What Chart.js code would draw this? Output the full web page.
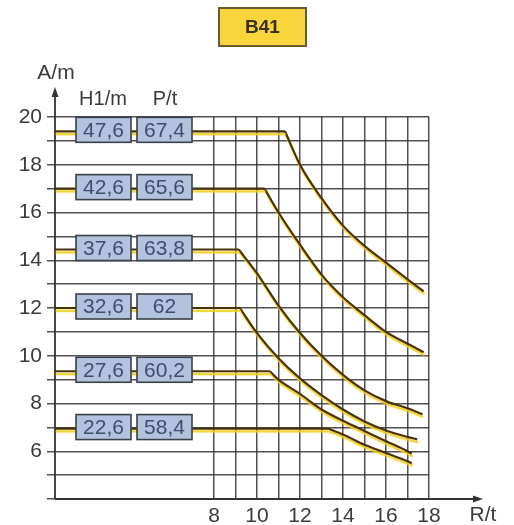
<!DOCTYPE html>
<html>
<head>
<meta charset="utf-8">
<script src="https://cdn.jsdelivr.net/npm/chart.js@4"></script>
<style>
body { margin: 0; background: #fff; }
#wrap { width: 514px; height: 525px; position: relative; }
</style>
</head>
<body>
<div id="wrap"><canvas id="c"></canvas></div>
<script>
// boom length H1 (m) and counterweight P (t) for each curve
var h1 = [47.6, 42.6, 37.6, 32.6, 27.6, 22.6];
var pt = [67.4, 65.6, 63.8, 62, 60.2, 58.4];

// radius R/t (x) and A/m (y); point 1 is the knee
var x1 = [0.6, 11.3, 12, 13, 14, 15, 16, 17, 17.75];
var y1 = [19.4, 19.4, 18.0, 16.6, 15.45, 14.6, 13.9, 13.2, 12.7];
var x2 = [0.6, 10.35, 11, 12, 13, 14, 15, 16, 17, 17.75];
var y2 = [17.0, 17.0, 16.0, 14.65, 13.4, 12.45, 11.7, 11.0, 10.5, 10.15];
var x3 = [0.6, 9.15, 10, 11, 12, 13, 14, 15, 16, 17, 17.7];
var y3 = [14.45, 14.45, 13.45, 12.1, 10.95, 10.0, 9.2, 8.55, 8.1, 7.8, 7.55];
var x4 = [0.6, 9.2, 10, 11, 12, 13, 14, 15, 16, 17, 17.45];
var y4 = [12.0, 12.0, 10.95, 9.9, 9.05, 8.35, 7.75, 7.25, 6.87, 6.6, 6.5];
var x5 = [0.6, 10.6, 11, 12, 13, 14, 15, 16, 17, 17.2];
var y5 = [9.35, 9.35, 9.0, 8.4, 7.75, 7.28, 6.85, 6.42, 6.0, 5.9];
var x6 = [0.6, 13.3, 14, 15, 16, 17, 17.2];
var y6 = [6.95, 6.95, 6.7, 6.27, 5.93, 5.58, 5.5];

var xTicks = [8, 9, 10, 11, 12, 13, 14, 15, 16, 17, 18];

var xs = [x1, x2, x3, x4, x5, x6];
var ys = [y1, y2, y3, y4, y5, y6];

function pts(xa, ya) {
  return xa.map(function (v, i) { return { x: v, y: ya[i] }; });
}
function fmt(v) {
  return String(v).replace('.', ',');
}

// each curve = straight flat part + smooth falling part from the knee on
var datasets = [];
xs.forEach(function (xa, i) {
  var all = pts(xa, ys[i]);
  var lbl = fmt(h1[i]) + ' / ' + fmt(pt[i]);
  datasets.push({
    label: lbl,
    data: all.slice(0, 2),
    borderColor: '#4a3208',
    borderWidth: 2.2,
    pointRadius: 0,
    tension: 0
  });
  datasets.push({
    label: lbl,
    data: all.slice(1),
    borderColor: '#4a3208',
    borderWidth: 2.2,
    pointRadius: 0,
    cubicInterpolationMode: 'monotone'
  });
});

var font = '"Liberation Sans", Arial, sans-serif';

var decor = {
  id: 'decor',
  beforeDatasetsDraw: function (chart) {
    var ctx = chart.ctx, a = chart.chartArea;
    ctx.save();
    ctx.strokeStyle = '#333';
    ctx.fillStyle = '#333';
    ctx.lineWidth = 1.8;
    // y axis with arrow
    ctx.beginPath();
    ctx.moveTo(a.left, a.bottom);
    ctx.lineTo(a.left, a.top - 26);
    ctx.stroke();
    ctx.beginPath();
    ctx.moveTo(a.left, a.top - 30);
    ctx.lineTo(a.left - 3.5, a.top - 20);
    ctx.lineTo(a.left + 3.5, a.top - 20);
    ctx.closePath();
    ctx.fill();
    // x axis with arrow
    ctx.beginPath();
    ctx.moveTo(a.left, a.bottom);
    ctx.lineTo(a.right + 50, a.bottom);
    ctx.stroke();
    ctx.beginPath();
    ctx.moveTo(a.right + 54, a.bottom);
    ctx.lineTo(a.right + 44, a.bottom - 3.5);
    ctx.lineTo(a.right + 44, a.bottom + 3.5);
    ctx.closePath();
    ctx.fill();
    ctx.restore();
  },
  beforeDatasetDraw: function (chart) {
    var ctx = chart.ctx;
    ctx.save();
    ctx.shadowColor = '#f2cf1c';
    ctx.shadowOffsetX = 0.8;
    ctx.shadowOffsetY = 2.8;
    ctx.shadowBlur = 1.2;
  },
  afterDatasetDraw: function (chart) {
    chart.ctx.restore();
  },
  afterDatasetsDraw: function (chart) {
    var ctx = chart.ctx, a = chart.chartArea;
    var yS = chart.scales.y;
    ctx.save();
    ctx.textAlign = 'center';
    ctx.textBaseline = 'middle';

    // value boxes on the flat part of each curve
    ctx.font = '21px ' + font;
    ys.forEach(function (ya, i) {
      var yc = yS.getPixelForValue(ya[0]) - 1.5;
      var boxes = [[a.left + 21, fmt(h1[i])], [a.left + 82, fmt(pt[i])]];
      boxes.forEach(function (b) {
        ctx.fillStyle = '#b3c3de';
        ctx.fillRect(b[0], yc - 12.5, 55, 25);
        ctx.strokeStyle = '#3a4048';
        ctx.lineWidth = 1.6;
        ctx.strokeRect(b[0], yc - 12.5, 55, 25);
        ctx.fillStyle = '#3e4d6e';
        ctx.fillText(b[1], b[0] + 27.5, yc + 1);
      });
    });

    // headers and axis names
    ctx.fillStyle = '#3a3a3a';
    ctx.font = '20px ' + font;
    ctx.fillText('H1/m', a.left + 48, a.top - 18);
    ctx.fillText('P/t', a.left + 110, a.top - 18);
    ctx.font = '21px ' + font;
    ctx.fillText('A/m', a.left + 1, a.top - 44);
    ctx.fillText('R/t', a.right + 54, a.bottom + 16);

    // title box
    ctx.fillStyle = '#f8d53a';
    ctx.fillRect(219, 8, 87, 38);
    ctx.strokeStyle = '#6a5a2c';
    ctx.lineWidth = 2;
    ctx.strokeRect(219, 8, 87, 38);
    ctx.fillStyle = '#3a3020';
    ctx.font = 'bold 19px ' + font;
    ctx.fillText('B41', 262.5, 28);
    ctx.restore();
  }
};

new Chart(document.getElementById('c'), {
  type: 'line',
  data: { datasets: datasets },
  options: {
    responsive: true,
    maintainAspectRatio: false,
    animation: false,
    layout: { padding: { top: 117, right: 85, left: 0, bottom: 0 } },
    plugins: {
      legend: { display: false },
      tooltip: { enabled: false }
    },
    scales: {
      x: {
        type: 'linear',
        min: 0.6,
        max: 18,
        afterBuildTicks: function (scale) {
          scale.ticks = xTicks.map(function (v) { return { value: v }; });
        },
        afterFit: function (scale) { scale.height = 26; },
        border: { display: false },
        grid: { color: 'rgba(50,50,50,0.85)', lineWidth: 1.5, drawTicks: false },
        ticks: {
          autoSkip: false,
          maxRotation: 0,
          padding: 5,
          color: '#3a3a3a',
          font: { family: font, size: 21 },
          callback: function (v) { return v % 2 === 0 ? v : ''; }
        }
      },
      y: {
        min: 4,
        max: 20,
        afterFit: function (scale) { scale.width = 55; },
        border: { display: false },
        grid: { color: 'rgba(50,50,50,0.85)', lineWidth: 1.5, tickLength: 8 },
        ticks: {
          stepSize: 1,
          autoSkip: false,
          padding: 5,
          color: '#3a3a3a',
          font: { family: font, size: 21 },
          callback: function (v) { return (v >= 6 && v % 2 === 0) ? v : ''; }
        }
      }
    }
  },
  plugins: [decor]
});
</script>
</body>
</html>
